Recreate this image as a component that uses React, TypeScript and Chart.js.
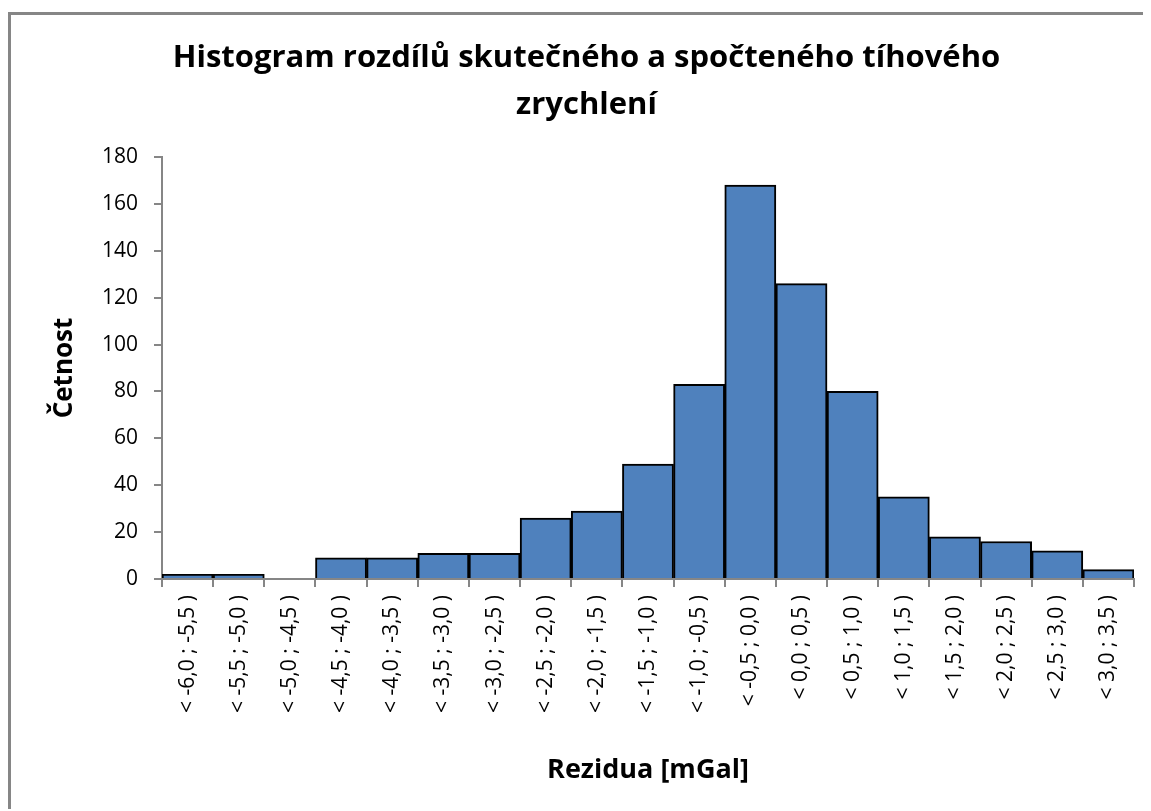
import React, { useEffect, useRef } from "react";
import { Chart, registerables } from "chart.js";

Chart.register(...registerables);

const categories = [
  "< -6,0 ; -5,5 )",
  "< -5,5 ; -5,0 )",
  "< -5,0 ; -4,5 )",
  "< -4,5 ; -4,0 )",
  "< -4,0 ; -3,5 )",
  "< -3,5 ; -3,0 )",
  "< -3,0 ; -2,5 )",
  "< -2,5 ; -2,0 )",
  "< -2,0 ; -1,5 )",
  "< -1,5 ; -1,0 )",
  "< -1,0 ; -0,5 )",
  "< -0,5 ; 0,0 )",
  "< 0,0 ; 0,5 )",
  "< 0,5 ; 1,0 )",
  "< 1,0 ; 1,5 )",
  "< 1,5 ; 2,0 )",
  "< 2,0 ; 2,5 )",
  "< 2,5 ; 3,0 )",
  "< 3,0 ; 3,5 )",
];

const counts = [2, 2, 0, 9, 9, 11, 11, 26, 29, 49, 83, 168, 126, 80, 35, 18, 16, 12, 4];

const titleLines = ["Histogram rozdílů skutečného a spočteného tíhového", "zrychlení"];
const xTitle = "Rezidua [mGal]";
const yTitle = "Četnost";
const yMin = 0;
const yMax = 180;
const yStep = 20;

const FONT = "'Open Sans', 'Noto Sans', sans-serif";
const AXIS_GRAY = "#868686";

export default function App() {
  const ref = useRef<HTMLCanvasElement | null>(null);

  useEffect(() => {
    if (!ref.current) return;
    const chart = new Chart(ref.current, {
      type: "bar",
      data: {
        labels: categories,
        datasets: [
          {
            data: counts,
            backgroundColor: "#4F81BD",
            borderColor: "#000000",
            borderWidth: 2,
            barPercentage: 1,
            categoryPercentage: 1,
          },
        ],
      },
      options: {
        responsive: false,
        animation: false,
        layout: { padding: { left: 28, right: 15, top: 0, bottom: 0 } },
        plugins: {
          legend: { display: false },
          tooltip: { enabled: false },
          title: {
            display: true,
            text: titleLines,
            color: "#000",
            font: { family: FONT, size: 31, weight: "bold", lineHeight: 1.5 },
            padding: { top: 20, bottom: 29 },
          },
        },
        scales: {
          x: {
            afterFit: (s: any) => {
              s.height = 230;
            },
            grid: {
              display: true,
              drawOnChartArea: false,
              drawTicks: true,
              tickLength: 8,
              color: AXIS_GRAY,
              lineWidth: 2,
              offset: true,
            },
            border: { display: true, color: AXIS_GRAY, width: 2 },
            ticks: {
              minRotation: 90,
              maxRotation: 90,
              autoSkip: false,
              padding: 8,
              color: "#000",
              font: { family: FONT, size: 21 },
            },
            title: {
              display: true,
              text: xTitle,
              color: "#000",
              font: { family: FONT, size: 27, weight: "bold", lineHeight: 1.2 },
              padding: { top: 0, bottom: 22 },
            },
          },
          y: {
            min: yMin,
            max: yMax,
            afterFit: (s: any) => {
              s.width = 123;
            },
            grid: {
              display: true,
              drawOnChartArea: false,
              drawTicks: true,
              tickLength: 8,
              color: AXIS_GRAY,
              lineWidth: 2,
            },
            border: { display: true, color: AXIS_GRAY, width: 2 },
            ticks: {
              stepSize: yStep,
              padding: 16,
              color: "#000",
              font: { family: FONT, size: 21 },
            },
            title: {
              display: true,
              text: yTitle,
              color: "#000",
              font: { family: FONT, size: 26, weight: "bold", lineHeight: 1.2 },
              padding: { top: 10, bottom: 0 },
            },
          },
        },
      },
    });
    return () => chart.destroy();
  }, []);

  return (
    <div
      style={{
        marginTop: 4,
        borderTop: `3px solid ${AXIS_GRAY}`,
        borderLeft: `3px solid ${AXIS_GRAY}`,
        width: 1138,
        height: 794,
        background: "#fff",
      }}
    >
      <canvas ref={ref} width={1138} height={794} style={{ display: "block" }} />
    </div>
  );
}
